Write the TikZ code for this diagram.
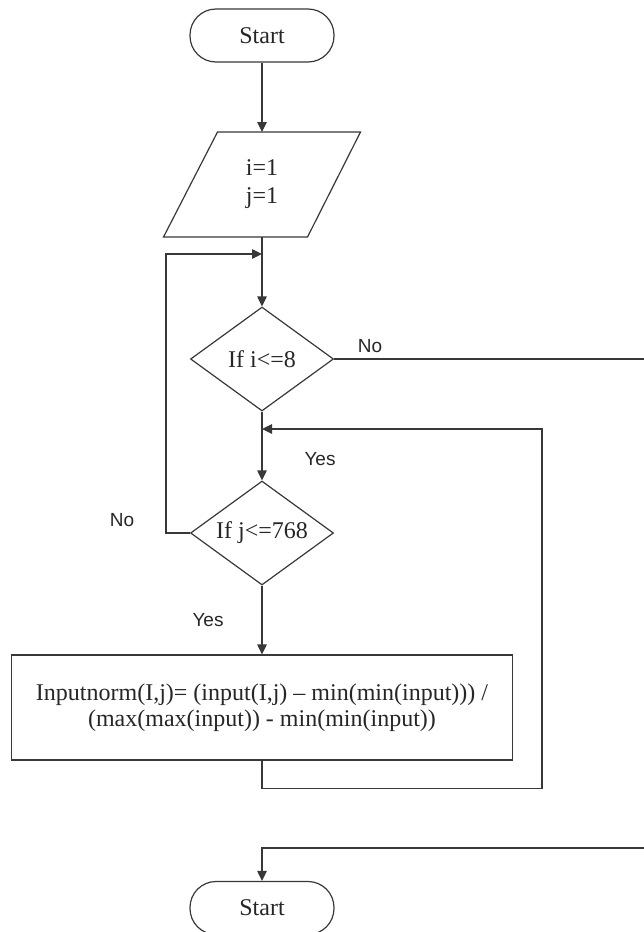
\documentclass[tikz,border=0pt]{standalone}
\usepackage{fontspec}
\setmainfont{Liberation Serif}
\newfontfamily\labelfont{Liberation Sans}
\usetikzlibrary{shapes.geometric,arrows.meta,calc}

\begin{document}
\begin{tikzpicture}[x=1pt,y=-1pt,
  line/.style={draw=black!78, line width=1.2pt},
  arr/.style={line, -{Triangle[length=10pt,width=9.5pt]}},
  txt/.style={text=black!85, font=\fontsize{24}{26}\selectfont},
  terminal/.style={line, txt, rectangle, rounded corners=26pt,
    minimum width=144pt, minimum height=53pt},
  iobox/.style={txt, rectangle, align=center, inner sep=0pt, outer sep=0pt,
    minimum width=197pt, minimum height=105pt, font=\fontsize{24}{28}\selectfont},
  decision/.style={line, txt, diamond, aspect=1.4, inner sep=0pt,
    minimum width=143pt, minimum height=104pt},
  process/.style={line, txt, rectangle, align=center,
    minimum width=501pt, minimum height=105pt},
  lab/.style={text=black!85, font=\labelfont\fontsize{19}{22}\selectfont}
]
\useasboundingbox (0,0) rectangle (644,932);

% nodes
\node[terminal] (start) at (262,35.5) {Start};
\node[iobox] (init) at (262,184.5) {i=1\\j=1};
\draw[line] ($(init.north west)+(54,0)$) -- (init.north east)
  -- ($(init.south east)+(-53,0)$) -- (init.south west) -- cycle;
\node[decision] (ci) at (262,359) {If i<=8};
\node[decision] (cj) at (262,533) {If j<=768};
\node[process] (norm) at (262,707.5)
  {Inputnorm(I,j)= (input(I,j) – min(min(input))) /\\(max(max(input)) - min(min(input))};
\node[terminal] (stop) at (262,908) {Start};

% junction points and off-page ends
\coordinate (jn1) at (262,254);
\coordinate (jn2) at (262,429);
\coordinate (outR) at (644,359);
\coordinate (inB) at (644,848);

% connectors
\draw[arr] (start.south) -- (init.north);
\draw[arr] (init.south) -- (ci.north);
\draw[arr] (ci.south) -- (cj.north);
\draw[arr] (cj.south) -- (norm.north);
\draw[arr] (cj.west) -- ++(-24,0) |- (jn1);
\draw[arr] (norm.south) -- ++(0,28) -| (542,429) -- (jn2);
\draw[line] (ci.east) -- (outR);
\draw[arr] (inB) -| (stop.north);

% branch labels
\node[lab] at (370,346) {No};
\node[lab] at (320,459) {Yes};
\node[lab] at (122,520) {No};
\node[lab] at (208,620) {Yes};
\end{tikzpicture}
\end{document}
